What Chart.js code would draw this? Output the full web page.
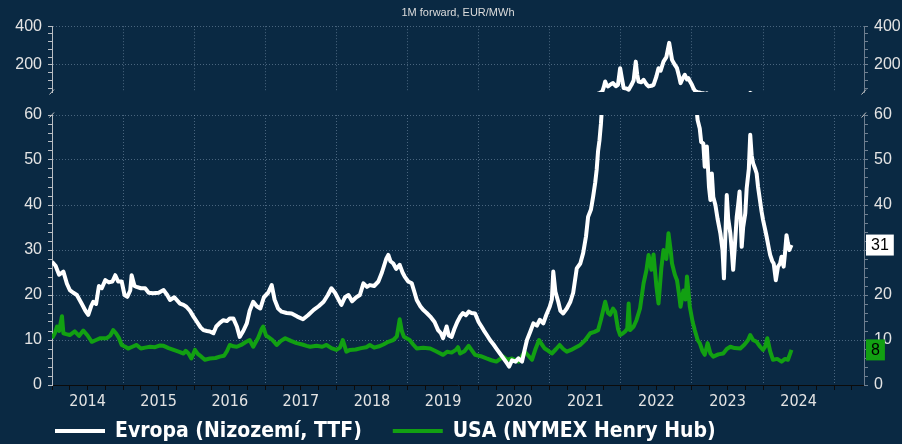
<!DOCTYPE html>
<html>
<head>
<meta charset="utf-8">
<script src="https://cdn.jsdelivr.net/npm/chart.js@4.4.1/dist/chart.umd.min.js"></script>
<style>
    html, body { margin: 0; padding: 0; background: #0a2943; overflow: hidden; width: 902px; height: 444px; }
    #top { position: absolute; left: 0; top: 0; }
    #bottom { position: absolute; left: 0; top: 100px; }
</style>
</head>
<body>
<canvas id="top" width="902" height="100"></canvas>
<canvas id="bottom" width="902" height="344"></canvas>
<script>
"use strict"

// TTF front month, EUR/MWh
const ttfYears = [
    2014.00, 2014.05, 2014.10, 2014.16, 2014.21, 2014.25, 2014.30, 2014.35, 2014.42, 2014.47, 2014.51, 2014.55,
    2014.58, 2014.62, 2014.66, 2014.70, 2014.75, 2014.80, 2014.85, 2014.89, 2014.93, 2014.98, 2015.02, 2015.06,
    2015.10, 2015.12, 2015.16, 2015.19, 2015.25, 2015.31, 2015.36, 2015.42, 2015.50, 2015.57, 2015.62, 2015.66,
    2015.72, 2015.80, 2015.85, 2015.89, 2015.94, 2015.99, 2016.04, 2016.09, 2016.13, 2016.18, 2016.22, 2016.27,
    2016.31, 2016.36, 2016.41, 2016.46, 2016.50, 2016.55, 2016.60, 2016.64, 2016.69, 2016.74, 2016.78, 2016.83,
    2016.88, 2016.93, 2016.98, 2017.04, 2017.09, 2017.13, 2017.18, 2017.23, 2017.30, 2017.37, 2017.45, 2017.53,
    2017.60, 2017.68, 2017.75, 2017.82, 2017.88, 2017.93, 2017.98, 2018.03, 2018.07, 2018.12, 2018.17, 2018.22,
    2018.28, 2018.33, 2018.38, 2018.43, 2018.47, 2018.53, 2018.59, 2018.64, 2018.70, 2018.73, 2018.76, 2018.80,
    2018.84, 2018.89, 2018.93, 2018.96, 2019.01, 2019.06, 2019.10, 2019.13, 2019.18, 2019.22, 2019.27, 2019.32,
    2019.38, 2019.43, 2019.47, 2019.50, 2019.55, 2019.58, 2019.62, 2019.66, 2019.70, 2019.74, 2019.78, 2019.82,
    2019.86, 2019.90, 2019.95, 2020.00, 2020.04, 2020.07, 2020.12, 2020.16, 2020.21, 2020.25, 2020.30, 2020.35,
    2020.40, 2020.43, 2020.47, 2020.52, 2020.56, 2020.61, 2020.65, 2020.68, 2020.73, 2020.77, 2020.82, 2020.86,
    2020.91, 2020.95, 2021.00, 2021.03, 2021.05, 2021.08, 2021.12, 2021.15, 2021.19, 2021.24, 2021.29, 2021.33,
    2021.38, 2021.43, 2021.47, 2021.51, 2021.54, 2021.58, 2021.61, 2021.64, 2021.66, 2021.68, 2021.70, 2021.72,
    2021.74, 2021.76, 2021.78, 2021.80, 2021.82, 2021.86, 2021.89, 2021.93, 2021.96, 2021.99, 2022.02, 2022.04,
    2022.08, 2022.11, 2022.15, 2022.18, 2022.21, 2022.23, 2022.25, 2022.29, 2022.32, 2022.36, 2022.39, 2022.43,
    2022.46, 2022.50, 2022.53, 2022.56, 2022.60, 2022.64, 2022.68, 2022.70, 2022.72, 2022.76, 2022.79, 2022.82,
    2022.84, 2022.87, 2022.90, 2022.93, 2022.95, 2022.98, 2023.00, 2023.02, 2023.04, 2023.06, 2023.08, 2023.11,
    2023.13, 2023.16, 2023.18, 2023.21, 2023.24, 2023.26, 2023.28, 2023.30, 2023.33, 2023.36, 2023.40, 2023.43,
    2023.45, 2023.47, 2023.49, 2023.51, 2023.54, 2023.56, 2023.58, 2023.60, 2023.63, 2023.65, 2023.67, 2023.70,
    2023.72, 2023.75, 2023.77, 2023.80, 2023.82, 2023.84, 2023.86, 2023.89, 2023.91, 2023.93, 2023.95, 2023.98,
    2024.00, 2024.03, 2024.05, 2024.08, 2024.10, 2024.13, 2024.15, 2024.18, 2024.21, 2024.24, 2024.26, 2024.29,
    2024.31, 2024.33, 2024.35, 2024.37, 2024.40
];
const ttfValues = [
    27.4, 26.5, 24.5, 25.2, 22.5, 21.1, 20.5, 20.0, 18.0, 16.5, 15.6, 17.5,
    18.5, 18.0, 22.0, 21.5, 23.3, 22.8, 23.0, 24.4, 23.0, 23.0, 20.0, 19.6,
    21.0, 24.4, 22.0, 21.8, 21.5, 21.5, 20.5, 20.4, 20.5, 21.1, 20.0, 18.9,
    19.5, 18.1, 17.8, 17.4, 16.5, 15.2, 14.0, 12.8, 12.2, 12.0, 11.9, 11.5,
    13.0, 13.8, 14.4, 14.2, 14.8, 14.8, 13.0, 10.7, 12.0, 13.7, 16.5, 18.5,
    17.5, 17.0, 19.5, 20.5, 22.2, 19.0, 17.0, 16.3, 16.0, 15.9, 15.2, 14.6,
    15.5, 16.7, 17.5, 18.5, 20.0, 21.5, 20.5, 19.0, 17.8, 19.5, 20.0, 18.6,
    19.5, 20.0, 22.6, 21.8, 22.2, 22.0, 23.0, 25.0, 28.0, 28.9, 27.5, 27.0,
    25.8, 26.7, 25.0, 24.1, 23.0, 22.6, 20.5, 18.9, 17.5, 16.7, 16.0, 15.2,
    14.0, 12.2, 11.5, 10.4, 13.0, 11.0, 10.7, 12.5, 14.0, 15.2, 16.0, 15.5,
    16.3, 16.0, 15.9, 14.0, 13.0, 12.2, 11.0, 10.0, 9.0, 8.1, 7.0, 5.9,
    4.8, 4.1, 5.5, 5.2, 5.9, 5.2, 8.0, 10.0, 12.0, 13.7, 13.2, 14.5,
    13.7, 15.5, 17.4, 19.0, 25.2, 20.7, 18.5, 16.5, 15.9, 17.0, 18.5, 20.5,
    25.9, 27.0, 29.3, 33.0, 37.4, 39.0, 41.8, 45.0, 47.8, 52.0, 54.4, 58.0,
    63, 85, 114, 95, 89, 100, 106, 90, 97, 183, 120, 80,
    78, 72, 97, 120, 217, 150, 114, 110, 123, 100, 89, 92,
    97, 140, 183, 170, 217, 240, 314, 270, 226, 200, 183, 140,
    106, 130, 149, 125, 132, 110, 97, 80, 68, 62, 58.9, 57.0,
    54.0, 53.7, 48.5, 53.0, 44.0, 41.1, 47.0, 41.8, 40.0, 37.0, 33.7, 30.0,
    23.7, 33.0, 42.2, 37.0, 33.7, 30.0, 25.6, 30.0, 37.4, 40.0, 43.0, 30.7,
    35.0, 38.1, 43.7, 48.0, 55.6, 51.0, 49.3, 48.0, 47.0, 44.0, 41.8, 38.5,
    36.7, 34.5, 33.0, 30.5, 28.9, 27.5, 27.0, 23.3, 26.3, 27.0, 28.5, 26.3,
    29.5, 33.3, 31.5, 30.0, 31.1
];

// Henry Hub front month, converted to EUR/MWh
const hhYears = [
    2014.00, 2014.04, 2014.07, 2014.10, 2014.14, 2014.16, 2014.20, 2014.25, 2014.32, 2014.38, 2014.44, 2014.50,
    2014.56, 2014.62, 2014.68, 2014.77, 2014.82, 2014.86, 2014.90, 2014.94, 2014.98, 2015.03, 2015.07, 2015.13,
    2015.19, 2015.25, 2015.31, 2015.38, 2015.45, 2015.52, 2015.57, 2015.64, 2015.71, 2015.78, 2015.85, 2015.88,
    2015.92, 2015.96, 2016.01, 2016.05, 2016.10, 2016.15, 2016.22, 2016.30, 2016.36, 2016.42, 2016.46, 2016.50,
    2016.55, 2016.60, 2016.66, 2016.72, 2016.78, 2016.83, 2016.90, 2016.95, 2016.97, 2017.01, 2017.04, 2017.10,
    2017.16, 2017.22, 2017.28, 2017.36, 2017.44, 2017.52, 2017.58, 2017.63, 2017.72, 2017.80, 2017.86, 2017.93,
    2018.00, 2018.05, 2018.09, 2018.14, 2018.19, 2018.27, 2018.35, 2018.42, 2018.47, 2018.53, 2018.60, 2018.66,
    2018.73, 2018.80, 2018.85, 2018.89, 2018.92, 2018.95, 2019.03, 2019.08, 2019.13, 2019.22, 2019.32, 2019.40,
    2019.50, 2019.56, 2019.62, 2019.68, 2019.71, 2019.74, 2019.80, 2019.86, 2019.91, 2019.95, 2020.03, 2020.11,
    2020.18, 2020.25, 2020.35, 2020.40, 2020.47, 2020.56, 2020.65, 2020.70, 2020.75, 2020.80, 2020.85, 2020.89,
    2020.93, 2020.98, 2021.03, 2021.09, 2021.14, 2021.19, 2021.24, 2021.30, 2021.37, 2021.43, 2021.50, 2021.57,
    2021.63, 2021.68, 2021.72, 2021.75, 2021.78, 2021.82, 2021.85, 2021.89, 2021.92, 2021.96, 2021.99, 2022.03,
    2022.06, 2022.09, 2022.11, 2022.13, 2022.18, 2022.22, 2022.27, 2022.32, 2022.36, 2022.39, 2022.43, 2022.46,
    2022.50, 2022.53, 2022.57, 2022.60, 2022.64, 2022.67, 2022.70, 2022.72, 2022.76, 2022.79, 2022.82, 2022.84,
    2022.88, 2022.91, 2022.93, 2022.95, 2022.97, 2023.01, 2023.04, 2023.08, 2023.11, 2023.15, 2023.18, 2023.22,
    2023.26, 2023.30, 2023.37, 2023.44, 2023.49, 2023.54, 2023.60, 2023.68, 2023.74, 2023.79, 2023.82, 2023.86,
    2023.91, 2023.96, 2024.00, 2024.03, 2024.06, 2024.10, 2024.14, 2024.20, 2024.26, 2024.31, 2024.35, 2024.40
];
const hhValues = [
    10.4, 11.5, 13.0, 12.0, 15.3, 11.5, 11.3, 11.1, 11.9, 10.9, 12.1, 11.0,
    9.6, 10.0, 10.4, 10.4, 11.0, 12.2, 11.5, 10.5, 8.9, 8.5, 8.1, 8.5,
    8.9, 8.1, 8.3, 8.5, 8.4, 8.8, 8.7, 8.2, 7.8, 7.4, 7.0, 7.6,
    7.0, 5.9, 7.8, 6.9, 6.3, 5.6, 5.9, 6.0, 6.3, 6.5, 7.5, 8.9,
    8.6, 8.5, 8.9, 9.5, 10.0, 8.5, 10.5, 12.5, 13.0, 11.0, 10.7, 10.0,
    8.9, 9.8, 10.4, 9.8, 9.3, 9.0, 8.7, 8.5, 8.7, 8.5, 8.9, 8.2,
    7.8, 8.3, 10.0, 7.4, 7.8, 7.9, 8.2, 8.4, 8.9, 8.3, 8.6, 9.0,
    9.6, 10.0, 10.8, 14.6, 12.0, 10.7, 10.0, 9.0, 8.1, 8.3, 8.1, 7.5,
    6.7, 7.4, 7.2, 7.8, 8.4, 7.0, 7.5, 8.7, 7.6, 6.7, 6.4, 5.9,
    5.5, 5.2, 6.3, 5.6, 5.9, 5.2, 7.4, 6.5, 5.6, 8.0, 10.0, 9.0,
    8.1, 7.6, 7.0, 8.0, 8.9, 8.0, 7.4, 7.8, 8.4, 8.9, 10.0, 11.5,
    11.8, 12.2, 14.5, 16.5, 18.5, 16.0, 15.6, 17.0, 16.3, 12.5, 11.1, 11.5,
    11.9, 12.5, 18.1, 12.2, 13.0, 14.4, 17.0, 22.6, 25.5, 28.9, 25.6, 29.0,
    22.0, 18.1, 26.0, 30.0, 28.0, 33.7, 30.0, 27.0, 24.5, 23.3, 20.0, 17.4,
    21.0, 19.0, 24.1, 21.0, 17.4, 14.0, 12.2, 10.0, 9.3, 7.5, 6.7, 9.3,
    7.0, 6.3, 6.8, 7.0, 8.0, 8.5, 8.2, 8.1, 9.0, 10.0, 11.1, 10.0,
    9.6, 8.5, 7.8, 8.5, 10.4, 7.5, 5.6, 5.8, 5.2, 5.8, 5.6, 7.8
];

const seriesNames = ["Evropa (Nizozemí, TTF)", "USA (NYMEX Henry Hub)"];
const titleText = "1M forward, EUR/MWh";

const X_MIN = 2014;
const X_MAX = 2025.42;

const GRID = "rgba(150, 175, 200, 0.45)";
const TICK = "#e4e4e4";
const WHITE = "#ffffff";
const GREEN = "#12a012";

function hasFont(name) {
    const c = document.createElement("canvas").getContext("2d");
    c.font = "20px monospace";
    const a = c.measureText("2014 Evropa Hub").width;
    c.font = `20px "${name}", monospace`;
    const b = c.measureText("2014 Evropa Hub").width;
    return a !== b;
}
const hasNarrow = hasFont("Liberation Sans Narrow");
const NARROW = hasNarrow ? "'Liberation Sans Narrow', sans-serif" : "'DejaVu Sans Condensed', sans-serif";
const SANS = "'Liberation Sans', Arial, sans-serif";

const toPoints = (xs, ys) => xs.map((x, i) => ({x: x, y: ys[i]}));

const xAxis = (showTicks) => ({
    type: "linear",
    min: X_MIN,
    max: X_MAX,
    afterFit: (s) => { s.height = showTicks ? 30 : 0; s.paddingLeft = 0; s.paddingRight = 0; },
    border: { display: showTicks, color: "#0b0b0b", width: 1, dash: [1, 2] },
    grid: {
        color: (c) => (c.tick && Number.isInteger(c.tick.value) ? GRID : "transparent"),
        tickColor: "#0b0b0b",
        drawTicks: showTicks,
        tickLength: 5
    },
    ticks: {
        display: showTicks,
        stepSize: 0.25,
        autoSkip: false,
        includeBounds: false,
        maxRotation: 0,
        minRotation: 0,
        padding: 2,
        color: TICK,
        font: { family: NARROW, size: hasNarrow ? 19 : 16 },
        callback: (v) => (Math.abs(v % 1 - 0.5) < 1e-6 ? String(Math.floor(v)) : "")
    }
});

const yAxis = (pos, min, max, step, labelEvery, width, borderColor) => ({
    position: pos,
    min: min,
    max: max,
    afterFit: (s) => { s.width = width; s.paddingTop = 0; s.paddingBottom = 0; },
    border: { color: borderColor, width: 1, dash: [1, 2] },
    grid: {
        drawOnChartArea: pos === "left",
        color: (c) => (c.tick && c.tick.value % labelEvery === 0 ? GRID : "transparent"),
        tickColor: borderColor,
        tickLength: 4
    },
    ticks: {
        stepSize: step,
        autoSkip: false,
        includeBounds: false,
        padding: 6,
        color: TICK,
        font: { family: SANS, size: 16 },
        callback: (v) => (v % labelEvery === 0 ? String(v) : "")
    }
});

// little "/" marks where the value axis is broken
const breakMarks = (atTop) => ({
    id: "breakMarks",
    afterDraw(chart) {
        const {ctx, chartArea} = chart;
        const y = atTop ? chartArea.top : chartArea.bottom;
        ctx.save();
        ctx.strokeStyle = "#c8c8c8";
        ctx.lineWidth = 1;
        [chartArea.left, chartArea.right].forEach((x) => {
            ctx.beginPath();
            ctx.moveTo(x - 2.5, y + 2.5);
            ctx.lineTo(x + 2, y - 2.5);
            ctx.stroke();
        });
        ctx.restore();
    }
});

// value boxes at the right edge for the last observation
const endLabels = {
    id: "endLabels",
    afterDraw(chart) {
        const {ctx, chartArea, scales} = chart;
        ctx.save();
        ctx.font = "16px " + SANS;
        ctx.textBaseline = "middle";
        chart.data.datasets.forEach((ds) => {
            const last = ds.data[ds.data.length - 1];
            const y = scales.y.getPixelForValue(last.y);
            const text = String(Math.round(last.y));
            const w = ctx.measureText(text).width + 10;
            const x = chartArea.right + 2;
            ctx.fillStyle = ds.borderColor;
            ctx.fillRect(x, y - 10.5, w, 21);
            ctx.fillStyle = "#000";
            ctx.fillText(text, x + 5, y + 1);
        });
        ctx.restore();
    }
};

// legend row under the year labels: line sample + bold name
const legendRow = {
    id: "legendRow",
    afterDraw(chart) {
        const {ctx, chartArea} = chart;
        const y = chart.height - 13;
        let x = chartArea.left + 3;
        ctx.save();
        ctx.font = "bold " + (hasNarrow ? 25 : 21) + "px " + NARROW;
        ctx.textBaseline = "middle";
        chart.data.datasets.forEach((ds) => {
            ctx.fillStyle = ds.borderColor;
            ctx.fillRect(x, y - 2, 50, 4);
            ctx.fillStyle = WHITE;
            ctx.fillText(ds.label, x + 60, y + 1);
            x += 60 + ctx.measureText(ds.label).width + 31;
        });
        ctx.restore();
    }
};

const ttfLine = () => ({
    label: seriesNames[0],
    data: toPoints(ttfYears, ttfValues),
    borderColor: WHITE,
    backgroundColor: WHITE,
    borderWidth: 4,
    borderJoinStyle: "round",
    pointRadius: 0,
    tension: 0,
    clip: 0
});

const hhLine = () => ({
    label: seriesNames[1],
    data: toPoints(hhYears, hhValues),
    borderColor: GREEN,
    backgroundColor: GREEN,
    borderWidth: 4,
    borderJoinStyle: "round",
    pointRadius: 0,
    tension: 0,
    clip: 0
});

Chart.defaults.font.family = SANS;

// upper panel: 60 - 400
new Chart(document.getElementById("top"), {
    type: "line",
    data: { datasets: [ttfLine()] },
    options: {
        responsive: false,
        animation: false,
        devicePixelRatio: 1,
        layout: { padding: { left: 0, right: 0, top: 0, bottom: 8 } },
        scales: {
            x: xAxis(false),
            y: yAxis("left", 60, 400, 40, 200, 52, "#b9bec4"),
            y2: yAxis("right", 60, 400, 40, 200, 38, "#6f7f90")
        },
        plugins: {
            legend: { display: false },
            tooltip: { enabled: false },
            title: {
                display: true,
                text: titleText,
                fullSize: false,
                color: "#dcdcdc",
                font: { family: SANS, size: 11, weight: "normal" },
                padding: { top: 6, bottom: 7 }
            }
        }
    },
    plugins: [breakMarks(false)]
});

// lower panel: 0 - 60
new Chart(document.getElementById("bottom"), {
    type: "line",
    data: { datasets: [ttfLine(), hhLine()] },
    options: {
        responsive: false,
        animation: false,
        devicePixelRatio: 1,
        layout: { padding: { left: 0, right: 0, top: 15, bottom: 29 } },
        scales: {
            x: xAxis(true),
            y: yAxis("left", 0, 60, 2, 10, 52, "#b9bec4"),
            y2: yAxis("right", 0, 60, 2, 10, 38, "#6f7f90")
        },
        plugins: {
            tooltip: { enabled: false },
            legend: { display: false }
        }
    },
    plugins: [breakMarks(true), endLabels, legendRow]
});
</script>
</body>
</html>
